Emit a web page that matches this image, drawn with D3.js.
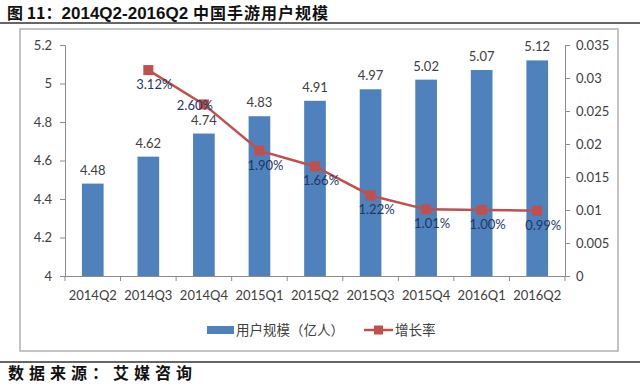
<!DOCTYPE html>
<html>
<head>
<meta charset="utf-8">
<script src="https://cdn.jsdelivr.net/npm/d3@7"></script>
<style>
  body { margin: 0; background: #fff; }
  svg text { font-family: Lato, "Noto Sans", sans-serif; }
</style>
</head>
<body>
<div id="chart"></div>
<script>
// chart data
const quarters = ['2014Q2', '2014Q3', '2014Q4', '2015Q1', '2015Q2', '2015Q3', '2015Q4', '2016Q1', '2016Q2'];
const users = [4.48, 4.62, 4.74, 4.83, 4.91, 4.97, 5.02, 5.07, 5.12];       // 亿人
const growth = [null, 0.0312, 0.026, 0.019, 0.0166, 0.0122, 0.0101, 0.0100, 0.0099];
const leftTicks = [4, 4.2, 4.4, 4.6, 4.8, 5, 5.2];
const rightTicks = [0, 0.005, 0.01, 0.015, 0.02, 0.025, 0.03, 0.035];

const width = 640, height = 385;
const plot = { left: 65, right: 565, top: 45, bottom: 276 };
const blue = '#4f81bd', red = '#c0504d', axisCol = '#8c8c8c';

const svg = d3.select('#chart').append('svg')
  .attr('width', width)
  .attr('height', height);

// title + rules
const title = svg.append('text').attr('x', 7).attr('y', 19)
  .attr('font-weight', 'bold').attr('fill', '#111');
title.append('tspan').style('font-family', '"Noto Sans CJK SC"').attr('font-size', 16).text('图 11：');
title.append('tspan').style('font-family', '"Liberation Sans"').attr('font-size', 17).text('2014Q2-2016Q2 ');
title.append('tspan').style('font-family', '"Noto Sans CJK SC"').attr('font-size', 16)
  .attr('letter-spacing', 1).text('中国手游用户规模');

svg.append('line').attr('x1', 0).attr('x2', width).attr('y1', 23).attr('y2', 23)
  .attr('stroke', '#333').attr('stroke-width', 1.5);

// chart frame
svg.append('rect').attr('x', 20).attr('y', 29).attr('width', 598).attr('height', 322)
  .attr('fill', 'none').attr('stroke', '#b0b0b0').attr('stroke-width', 1.5);

svg.append('line').attr('x1', 0).attr('x2', width).attr('y1', 362).attr('y2', 362)
  .attr('stroke', '#333').attr('stroke-width', 1.5);

svg.append('text').attr('x', 8).attr('y', 379)
  .style('font-family', '"Noto Sans CJK SC"')
  .attr('font-size', 16).attr('font-weight', 'bold').attr('fill', '#111')
  .attr('letter-spacing', 5)
  .text('数据来源：艾媒咨询');

// scales
const x = d3.scaleBand().domain(quarters).range([plot.left, plot.right]).paddingInner(0.61).paddingOuter(0.305);
const xOuter = d3.scaleBand().domain(quarters).range([plot.left, plot.right]);
const yL = d3.scaleLinear().domain([4, 5.2]).range([plot.bottom, plot.top]);
const yR = d3.scaleLinear().domain([0, 0.035]).range([plot.bottom, plot.top]);

// bars
svg.selectAll('.bar')
  .data(users)
  .enter().append('rect')
  .attr('class', 'bar')
  .attr('x', (d, i) => x(quarters[i]))
  .attr('y', d => yL(d))
  .attr('width', x.bandwidth())
  .attr('height', d => plot.bottom - yL(d))
  .attr('fill', blue);

svg.selectAll('.bar-label')
  .data(users)
  .enter().append('text')
  .attr('class', 'bar-label')
  .attr('x', (d, i) => xOuter(quarters[i]) + xOuter.bandwidth() / 2)
  .attr('y', d => yL(d) - 9)
  .attr('text-anchor', 'middle')
  .attr('font-size', 13)
  .attr('fill', '#404040')
  .text(d => d.toFixed(2));

// axes
const styleAxis = g => {
  g.select('.domain').attr('stroke', axisCol);
  g.selectAll('.tick line').attr('stroke', axisCol);
  g.selectAll('.tick text').attr('fill', '#404040').attr('font-size', 13)
    .style('font-family', 'Lato, "Noto Sans", sans-serif');
};

svg.append('g').attr('transform', `translate(${plot.left},0)`)
  .call(d3.axisLeft(yL).tickValues(leftTicks).tickSize(5).tickPadding(8).tickFormat(d => d3.format('')(+d.toFixed(1))))
  .call(styleAxis);

svg.append('g').attr('transform', `translate(${plot.right},0)`)
  .call(d3.axisRight(yR).tickValues(rightTicks).tickSize(5).tickPadding(6).tickFormat(d => d3.format('')(+d.toFixed(3))))
  .call(styleAxis);

// x axis with ticks at category boundaries
const xAxis = svg.append('g').attr('transform', `translate(0,${plot.bottom})`)
  .call(d3.axisBottom(xOuter).tickSize(0).tickPadding(15))
  .call(styleAxis);
xAxis.selectAll('.bound')
  .data(d3.range(quarters.length + 1))
  .enter().append('line')
  .attr('class', 'bound')
  .attr('x1', i => plot.left + i * xOuter.step())
  .attr('x2', i => plot.left + i * xOuter.step())
  .attr('y1', 0).attr('y2', 5)
  .attr('stroke', axisCol);

// growth line
const pts = growth.map((g, i) => ({ q: quarters[i], g: g, i: i })).filter(d => d.g !== null);
const cx = d => xOuter(d.q) + xOuter.bandwidth() / 2;

svg.append('path')
  .datum(pts)
  .attr('d', d3.line().x(cx).y(d => yR(d.g)))
  .attr('fill', 'none')
  .attr('stroke', red)
  .attr('stroke-width', 2.5);

svg.selectAll('.marker')
  .data(pts)
  .enter().append('rect')
  .attr('class', 'marker')
  .attr('x', d => cx(d) - 5)
  .attr('y', d => yR(d.g) - 5)
  .attr('width', 10).attr('height', 10)
  .attr('fill', red);

svg.selectAll('.line-label')
  .data(pts)
  .enter().append('text')
  .attr('class', 'line-label')
  .attr('x', d => cx(d) + (d.i === 2 ? -9 : 6))
  .attr('y', d => yR(d.g) + (d.i === 2 ? 6 : 19))
  .attr('text-anchor', 'middle')
  .attr('font-size', 13)
  .attr('fill', '#1f3864')
  .text(d => (d.g * 100).toFixed(2) + '%');

// legend
const legend = svg.append('g').attr('transform', 'translate(0,330)');
legend.append('rect').attr('x', 207).attr('y', -4).attr('width', 27).attr('height', 8).attr('fill', blue);
legend.append('text').attr('x', 236).attr('y', 5)
  .style('font-family', '"Noto Sans CJK SC"').attr('font-size', 13.5).attr('fill', '#404040')
  .text('用户规模（亿人）');
legend.append('line').attr('x1', 364).attr('x2', 393).attr('y1', 0).attr('y2', 0)
  .attr('stroke', red).attr('stroke-width', 2.5);
legend.append('rect').attr('x', 374).attr('y', -4.5).attr('width', 9).attr('height', 9).attr('fill', red);
legend.append('text').attr('x', 395).attr('y', 5)
  .style('font-family', '"Noto Sans CJK SC"').attr('font-size', 13.5).attr('fill', '#404040')
  .text('增长率');
</script>
</body>
</html>
